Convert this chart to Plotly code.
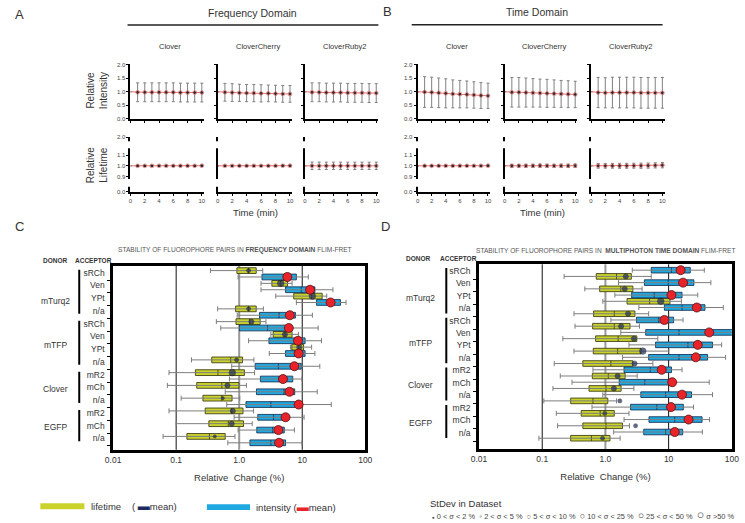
import plotly.graph_objects as go

W, H = 745, 523
FONT = "Liberation Sans, Arial, sans-serif"

# ====================== DATA: panels A / B (time courses) ======================
time_min = [0, 1, 2, 3, 4, 5, 6, 7, 8, 9, 10]
construct_names = ["Clover", "CloverCherry", "CloverRuby2"]
domain_titles = ["Frequency Domain", "Time Domain"]

# frequency domain - relative intensity
fd_int_clover = [1.00, 0.98, 0.98, 0.98, 0.98, 0.98, 0.98, 0.97, 0.97, 0.97, 0.97]
fd_int_clover_sd = [0.00, 0.35, 0.35, 0.35, 0.35, 0.35, 0.35, 0.35, 0.35, 0.35, 0.35]
fd_int_cherry = [1.00, 0.98, 0.97, 0.96, 0.95, 0.95, 0.94, 0.94, 0.93, 0.92, 0.92]
fd_int_cherry_sd = [0.00, 0.33, 0.33, 0.32, 0.32, 0.32, 0.32, 0.31, 0.31, 0.31, 0.31]
fd_int_ruby = [1.00, 0.98, 0.98, 0.97, 0.97, 0.97, 0.96, 0.96, 0.96, 0.95, 0.95]
fd_int_ruby_sd = [0.00, 0.35, 0.35, 0.35, 0.35, 0.35, 0.35, 0.35, 0.35, 0.35, 0.35]
# frequency domain - relative lifetime
fd_lt_clover = [1.000, 1.000, 1.000, 1.000, 1.000, 1.000, 1.000, 1.000, 1.000, 1.000, 1.001]
fd_lt_clover_sd = [0.0, 0.004, 0.004, 0.004, 0.004, 0.004, 0.004, 0.004, 0.004, 0.004, 0.004]
fd_lt_cherry = [1.000, 1.000, 1.000, 1.000, 1.000, 1.000, 1.000, 1.000, 1.000, 1.001, 1.001]
fd_lt_cherry_sd = [0.0, 0.004, 0.004, 0.004, 0.004, 0.004, 0.004, 0.004, 0.004, 0.004, 0.004]
fd_lt_ruby = [1.000, 1.000, 1.000, 1.000, 1.000, 1.000, 1.000, 1.000, 1.000, 1.000, 1.000]
fd_lt_ruby_sd = [0.0, 0.035, 0.035, 0.034, 0.034, 0.034, 0.034, 0.034, 0.034, 0.034, 0.034]

# time domain - relative intensity
td_int_clover = [1.00, 0.99, 0.98, 0.96, 0.94, 0.92, 0.91, 0.90, 0.88, 0.86, 0.85]
td_int_clover_sd = [0.00, 0.57, 0.56, 0.55, 0.54, 0.52, 0.51, 0.50, 0.49, 0.48, 0.47]
td_int_cherry = [1.00, 0.98, 0.98, 0.97, 0.96, 0.95, 0.94, 0.93, 0.92, 0.91, 0.90]
td_int_cherry_sd = [0.00, 0.55, 0.55, 0.54, 0.53, 0.52, 0.52, 0.51, 0.50, 0.50, 0.49]
td_int_ruby = [1.00, 0.97, 0.96, 0.97, 0.97, 0.97, 0.97, 0.96, 0.96, 0.96, 0.96]
td_int_ruby_sd = [0.00, 0.56, 0.56, 0.57, 0.57, 0.57, 0.57, 0.57, 0.57, 0.57, 0.57]
# time domain - relative lifetime
td_lt_clover = [1.000, 1.000, 1.000, 1.000, 1.000, 1.000, 1.000, 1.000, 1.000, 1.000, 1.001]
td_lt_clover_sd = [0.0, 0.005, 0.005, 0.005, 0.005, 0.005, 0.005, 0.005, 0.005, 0.005, 0.006]
td_lt_cherry = [1.000, 1.000, 1.000, 1.000, 1.000, 1.001, 1.000, 1.000, 1.000, 1.000, 1.001]
td_lt_cherry_sd = [0.0, 0.014, 0.014, 0.015, 0.015, 0.015, 0.015, 0.015, 0.016, 0.016, 0.016]
td_lt_ruby = [1.000, 1.000, 1.000, 1.000, 1.000, 1.000, 1.001, 1.001, 1.002, 1.004, 1.006]
td_lt_ruby_sd = [0.0, 0.022, 0.022, 0.022, 0.023, 0.023, 0.023, 0.024, 0.024, 0.024, 0.025]

# ====================== DATA: panels C / D (box plots, % change) ======================
donor_names = ["mTurq2", "mTFP", "Clover", "EGFP"]
donor_counts = [4, 4, 3, 3]
acceptor_names = ["sRCh", "Ven", "YPt", "n/a", "sRCh", "Ven", "YPt", "n/a",
                  "mR2", "mCh", "n/a", "mR2", "mCh", "n/a"]
x_tick_vals = [0.01, 0.1, 1, 10, 100]
x_tick_text = ["0.01", "0.1", "1.0", "10", "100"]
sigma_labels = ["0 < σ < 2 %", "2 < σ < 5 %", "5 < σ < 10 %",
                "10 < σ < 25 %", "25 < σ < 50 %", "σ >50 %"]

# frequency domain - lifetime
fd_life_low = [0.35, 2.22, 3.8, 0.455, 0.434, 3.18, 6.5, 0.175, 0.077, 0.0725, 0.12, 0.077, 0.10, 0.062]
fd_life_q1 = [0.92, 3.3, 7.33, 0.877, 0.89, 3.46, 6.83, 0.367, 0.202, 0.212, 0.266, 0.289, 0.33, 0.148]
fd_life_med = [1.41, 4.55, 14.1, 1.41, 1.47, 5.31, 8.77, 0.733, 0.46, 0.53, 0.53, 0.76, 0.67, 0.337]
fd_life_q3 = [1.86, 5.85, 20.7, 1.86, 2.15, 6.9, 10.5, 1.13, 1.21, 0.99, 0.77, 1.15, 1.17, 0.60]
fd_life_high = [2.36, 6.9, 24.5, 2.42, 2.66, 8.77, 14.1, 1.71, 1.75, 1.30, 1.02, 1.69, 1.61, 0.857]
fd_life_mean = [1.41, 4.55, 14.5, 1.41, 1.56, 5.31, 8.98, 0.91, 0.778, 0.65, 0.55, 0.79, 0.76, 0.41]
fd_life_sigma = [1, 3, 3, 1, 2, 2, 2, 1, 3, 2, 0, 2, 2, 0]
# frequency domain - intensity
fd_int_low = [0.96, 2.22, 8.07, 0.93, 0.51, 1.41, 3.0, 0.76, 0.70, 0.60, 0.635, 0.83, 0.96, 0.66]
fd_int_q1 = [2.3, 5.44, 16.9, 2.1, 1.01, 2.96, 5.44, 1.79, 2.17, 1.88, 1.28, 1.97, 1.9, 1.48]
fd_int_med = [5.1, 9.64, 28.9, 4.29, 2.82, 7.6, 7.6, 4.19, 4.29, 5.13, 3.18, 3.5, 3.38, 3.18]
fd_int_q3 = [8.07, 15.9, 40.4, 7.8, 5.57, 11.1, 11.1, 9.64, 7.08, 7.6, 9.64, 6.13, 5.19, 5.44]
fd_int_high = [12.5, 30.7, 49.5, 14.5, 17.9, 20.2, 15.9, 19.0, 9.88, 17.3, 28.9, 10.7, 7.51, 9.88]
fd_int_mean = [5.8, 13.3, 28.2, 6.36, 6.13, 8.57, 8.77, 7.51, 4.95, 6.28, 8.77, 5.44, 4.19, 4.29]
fd_int_sigma = [4, 4, 4, 4, 4, 4, 4, 4, 4, 4, 4, 4, 4, 4]

# multiphoton time domain - lifetime
td_life_low = [0.222, 0.472, 0.91, 0.318, 0.33, 0.212, 0.318, 0.155, 0.193, 0.148, 0.106, 0.167, 0.175, 0.0887]
td_life_q1 = [0.716, 0.81, 2.2, 0.65, 0.628, 0.70, 0.643, 0.439, 0.621, 0.55, 0.282, 0.414, 0.439, 0.282]
td_life_med = [1.5, 1.75, 5.0, 1.38, 1.38, 1.59, 1.56, 1.22, 1.11, 1.02, 0.635, 0.826, 1.02, 0.60]
td_life_q3 = [2.57, 2.72, 10.5, 2.93, 2.45, 3.14, 3.67, 2.72, 2.05, 1.77, 1.09, 1.38, 1.86, 1.18]
td_life_high = [5.31, 3.8, 15.9, 4.83, 3.46, 6.75, 10.1, 5.64, 3.18, 2.82, 1.5, 2.36, 2.4, 1.71]
td_life_mean = [2.1, 2.02, 7.5, 2.28, 1.77, 2.82, 3.9, 2.89, 1.56, 1.36, 1.69, 0.977, 3.0, 0.90]
td_life_sigma = [2, 2, 3, 2, 2, 2, 3, 2, 2, 2, 1, 1, 1, 1]
# multiphoton time domain - intensity
td_int_low = [2.66, 1.61, 1.41, 3.38, 1.22, 1.75, 2.36, 1.86, 0.635, 0.296, 0.91, 0.613, 1.97, 1.35]
td_int_q1 = [5.31, 4.14, 2.6, 8.57, 3.1, 4.34, 6.21, 4.83, 1.97, 1.65, 3.63, 2.5, 4.89, 4.04]
td_int_med = [11.1, 9.88, 5.92, 16.3, 6.9, 14.6, 20.2, 14.6, 5.13, 4.19, 8.98, 6.5, 12.5, 8.98]
td_int_q3 = [22.0, 25.1, 16.3, 37.6, 12.0, 120.0, 49.5, 41.4, 11.1, 11.1, 23.0, 17.1, 33.8, 16.7]
td_int_high = [36.7, 46.6, 28.9, 73.3, 16.9, 200.0, 69.0, 79.7, 16.3, 43.9, 49.5, 24.8, 44.4, 34.2]
td_int_mean = [15.5, 16.9, 11.1, 27.9, 8.57, 43.9, 28.9, 26.9, 7.78, 11.4, 16.3, 10.9, 20.7, 12.5]
td_int_sigma = [4, 4, 4, 4, 4, 4, 4, 4, 4, 4, 4, 4, 4, 4]

# ====================== STYLE ======================
LIME, LIME_LINE = "#cad32c", "#3f4016"
SKY, SKY_LINE = "#1ea9e1", "#1b3557"
WHISKER = "#7d7d7d"
NAVY, RED = "#1d2a5e", "#e8232a"
SIGMA_SIZES = [3.2, 4.2, 5.2, 6.6, 9.0, 11.5]


def px(v):
    return v / W


def py(v):
    return 1 - v / H


fig = go.Figure()
layout = {}
shapes = []
annotations = []


def ann(text, x, y, size=9, color="#222", xanchor="center", yanchor="middle",
        angle=0, xref="paper", yref="paper", family=FONT):
    annotations.append(dict(
        text=text, x=px(x) if xref == "paper" else x,
        y=py(y) if yref == "paper" else y, xref=xref, yref=yref,
        showarrow=False, xanchor=xanchor, yanchor=yanchor, textangle=angle,
        font=dict(family=family, size=size, color=color)))


def names(n):
    return ("x" if n == 1 else f"x{n}", "y" if n == 1 else f"y{n}",
            "xaxis" if n == 1 else f"xaxis{n}", "yaxis" if n == 1 else f"yaxis{n}")


# ---------------- small time-course plots ----------------
LT_LO, LT_HI = 0.7576, 1.2673   # broken lifetime axis: 0.0 | 0.9-1.1 | 2.0
INT_Y = (62, 117)
LT_Y = (135.7, 191)
col_px = [[(125, 200), (214, 290), (303, 378)],
          [(418, 492), (507, 581), (595, 670)]]
panel_series = [
    [(fd_int_clover, fd_int_clover_sd, fd_lt_clover, fd_lt_clover_sd),
     (fd_int_cherry, fd_int_cherry_sd, fd_lt_cherry, fd_lt_cherry_sd),
     (fd_int_ruby, fd_int_ruby_sd, fd_lt_ruby, fd_lt_ruby_sd)],
    [(td_int_clover, td_int_clover_sd, td_lt_clover, td_lt_clover_sd),
     (td_int_cherry, td_int_cherry_sd, td_lt_cherry, td_lt_cherry_sd),
     (td_int_ruby, td_int_ruby_sd, td_lt_ruby, td_lt_ruby_sd)],
]

n = 0
for p in range(2):
    for c in range(3):
        int_m, int_sd, lt_m, lt_sd = panel_series[p][c]
        for lifetime, mean, sd, yr in ((False, int_m, int_sd, INT_Y), (True, lt_m, lt_sd, LT_Y)):
            n += 1
            xa, ya, xk, yk = names(n)
            fig.add_trace(go.Scatter(
                x=time_min, y=mean, xaxis=xa, yaxis=ya, mode="lines+markers",
                line=dict(color="#e57373", width=1),
                marker=dict(color="black", size=[0] + [3.8] * (len(time_min) - 1)),
                error_y=dict(type="data", array=sd, visible=True, color="#808080",
                             thickness=1, width=1.5),
                showlegend=False, hoverinfo="skip", cliponaxis=False))
            xr = col_px[p][c]
            layout[xk] = dict(domain=[px(xr[0]), px(xr[1])], range=[0, 10.3], anchor=ya,
                              tickvals=[0, 2, 4, 6, 8, 10], ticks="outside", ticklen=2,
                              tickwidth=1, tickcolor="black", showticklabels=lifetime,
                              tickfont=dict(family=FONT, size=6, color="#444"),
                              showline=True, linewidth=2, linecolor="black",
                              showgrid=False, zeroline=False, fixedrange=True)
            if lifetime:
                yax = dict(range=[LT_LO, LT_HI],
                           tickvals=[LT_LO + 0.002, 0.9, 1.0, 1.1, LT_HI - 0.002],
                           ticktext=["0.0", "0.9", "1.0", "1.1", "2.0"],
                           ticks="outside" if c == 0 else "")
            else:
                yax = dict(range=[0, 2.02], tickvals=[0, 0.5, 1.0, 1.5, 2.0],
                           ticktext=["0.0", "0.5", "1.0", "1.5", "2.0"], ticks="outside")
            yax.update(domain=[py(yr[1]), py(yr[0])], anchor=xa, ticklen=2, tickwidth=1,
                       tickcolor="black", showticklabels=(c == 0),
                       tickfont=dict(family=FONT, size=6, color="#444"),
                       showline=True, linewidth=2, linecolor="black",
                       showgrid=False, zeroline=False, fixedrange=True)
            layout[yk] = yax
            if lifetime:
                # axis-break gaps
                for g0, g1 in ((1.163, 1.228), (0.804, 0.877)):
                    shapes.append(dict(type="rect", xref=f"{xa} domain", yref=ya,
                                       x0=-0.04, x1=0.015, y0=g0, y1=g1,
                                       fillcolor="white", line=dict(width=0), layer="above"))
        ann(construct_names[c], (xr[0] + xr[1]) / 2 + 3, 44, size=7.5, color="#333")

# headers of panels A/B
ann("A", 12, 12, size=13, color="#333")
ann("B", 387, 9, size=13, color="#333")
ann(domain_titles[0], 250, 10, size=10.5, color="#333")
ann(domain_titles[1], 540, 9, size=10.5, color="#333")
shapes.append(dict(type="line", xref="paper", yref="paper", x0=px(122), x1=px(378),
                   y0=py(22.3), y1=py(22.3), line=dict(color="#222", width=1.5)))
shapes.append(dict(type="line", xref="paper", yref="paper", x0=px(412), x1=px(668),
                   y0=py(22), y1=py(22), line=dict(color="#222", width=1.5)))
ann("Relative<br>Intensity", 91, 89, size=10, color="#333", angle=-90)
ann("Relative<br>Lifetime", 91, 164, size=10, color="#333", angle=-90)
ann("Time (min)", 253, 212, size=9.5, color="#333")
ann("Time (min)", 545, 212, size=9.5, color="#333")

# ---------------- box-plot panels C / D ----------------
def sizes(classes):
    return [SIGMA_SIZES[k] for k in classes]


panels = [
    dict(n=13, x=(107.3, 364.6), y=(266, 452), yrange=[28.1, -0.73], life_first=True,
         life=(fd_life_low, fd_life_q1, fd_life_med, fd_life_q3, fd_life_high, fd_life_mean, fd_life_sigma),
         inten=(fd_int_low, fd_int_q1, fd_int_med, fd_int_q3, fd_int_high, fd_int_mean, fd_int_sigma),
         label_off=0.3, line_x=72.7, donor_x=48, lab_shift=[1.2, 0.2, 0, 0],
         grp=(-0.15, 0.75),
         title="STABILITY OF FLUOROPHORE PAIRS IN <b>FREQUENCY DOMAIN</b> FLIM-FRET",
         title_x=232, head_y=260.5, donor_hx=48, acc_hx=87, letter="C", letter_x=12),
    dict(n=14, x=(480.7, 738.7), y=(264.3, 451.3), yrange=[28.75, -0.95], life_first=False,
         life=(td_life_low, td_life_q1, td_life_med, td_life_q3, td_life_high, td_life_mean, td_life_sigma),
         inten=(td_int_low, td_int_q1, td_int_med, td_int_q3, td_int_high, td_int_mean, td_int_sigma),
         label_off=0.1, line_x=447.3, donor_x=421, lab_shift=[1.0, 0.2, 0, 0],
         grp=(-0.35, 0.95),
         title="STABILITY OF FLUOROPHORE PAIRS IN  <b>MULTIPHOTON TIME DOMAIN</b> FLIM-FRET",
         title_x=610, head_y=258, donor_hx=419, acc_hx=460, letter="D", letter_x=385),
]

nrows = len(acceptor_names)
for P in panels:
    xa, ya, xk, yk = names(P["n"])
    life_pos = [2 * i + (0 if P["life_first"] else 1) for i in range(nrows)]
    int_pos = [2 * i + (1 if P["life_first"] else 0) for i in range(nrows)]
    for stats, pos, fill, lc in ((P["life"], life_pos, LIME, LIME_LINE),
                                 (P["inten"], int_pos, SKY, SKY_LINE)):
        lo, q1, med, q3, hi, mean, sig = stats
        # gray whiskers (min..max) drawn as asymmetric error bars around the median
        fig.add_trace(go.Scatter(
            x=med, y=pos, xaxis=xa, yaxis=ya, mode="markers",
            marker=dict(size=1, opacity=0),
            error_x=dict(type="data", symmetric=False,
                         array=[h - m for h, m in zip(hi, med)],
                         arrayminus=[m - l for m, l in zip(med, lo)],
                         color=WHISKER, thickness=1, width=2.5),
            showlegend=False, hoverinfo="skip"))
        # box body (quartiles + median); whiskers collapsed onto the box
        fig.add_trace(go.Box(orientation="h", y=pos, q1=q1, median=med, q3=q3,
                             lowerfence=q1, upperfence=q3, xaxis=xa, yaxis=ya,
                             fillcolor=fill, line=dict(color=lc, width=0.9),
                             width=0.9, whiskerwidth=0, boxpoints=False,
                             showlegend=False, hoverinfo="skip"))
    lo, q1, med, q3, hi, mean, sig = P["life"]
    fig.add_trace(go.Scatter(x=mean, y=life_pos, xaxis=xa, yaxis=ya, mode="markers",
                             marker=dict(color=NAVY, size=sizes(sig),
                                         line=dict(color="#111", width=0.5)),
                             showlegend=False, hoverinfo="skip"))
    lo, q1, med, q3, hi, mean, sig = P["inten"]
    fig.add_trace(go.Scatter(x=mean, y=int_pos, xaxis=xa, yaxis=ya, mode="markers",
                             marker=dict(color=RED, size=sizes(sig), opacity=1,
                                         line=dict(color="#5a1010", width=0.8)),
                             showlegend=False, hoverinfo="skip"))

    layout[xk] = dict(domain=[px(P["x"][0]), px(P["x"][1])], type="log", range=[-2, 2],
                      anchor=ya, tickvals=x_tick_vals, ticktext=x_tick_text, ticks="",
                      tickfont=dict(family=FONT, size=8.5, color="#333"),
                      showline=True, mirror=True, linewidth=2.5, linecolor="black",
                      showgrid=False, zeroline=False, fixedrange=True,
                      title=dict(text="Relative  Change (%)", standoff=11,
                                 font=dict(family=FONT, size=9.5, color="#333")))
    layout[yk] = dict(domain=[py(P["y"][1]), py(P["y"][0])], range=P["yrange"], anchor=xa,
                      tickvals=[2 * i + P["label_off"] for i in range(nrows)],
                      ticktext=acceptor_names, ticks="", ticklabelstandoff=4,
                      minor=dict(tickmode="array", tickvals=[2 * i + 1.5 for i in range(nrows)],
                                 ticks="outside", ticklen=3, tickwidth=1, tickcolor="black"),
                      tickfont=dict(family=FONT, size=8.5, color="#333"),
                      showline=True, mirror=True, linewidth=2.5, linecolor="black",
                      showgrid=False, zeroline=False, fixedrange=True)
    # reference lines at 0.1, 1.0, 10 (domain quarters of the 4-decade axis)
    for frac, col, wd in ((0.25, "#111", 1), (0.5, "#999999", 2), (0.75, "#111", 1)):
        shapes.append(dict(type="line", xref=f"{xa} domain", yref=f"{ya} domain",
                           x0=frac, x1=frac, y0=0, y1=1, line=dict(color=col, width=wd),
                           layer="below"))
    # donor groups
    start = 0
    for d, cnt in enumerate(donor_counts):
        first, last = start, start + cnt - 1
        y0 = 2 * first + P["grp"][0]
        y1 = 2 * last + P["grp"][1]
        shapes.append(dict(type="line", xref="paper", yref=ya, x0=px(P["line_x"]),
                           x1=px(P["line_x"]), y0=y0, y1=y1,
                           line=dict(color="black", width=2)))
        ann(donor_names[d], P["donor_x"], (2 * first + 2 * last + 1) / 2 + P["lab_shift"][d],
            size=8.5, color="#333", yref=ya)
        start += cnt
    ann(P["title"], P["title_x"], 250, size=6.6, color="#555")
    ann("<b>DONOR</b>", P["donor_hx"], P["head_y"], size=6.5, color="#333")
    ann("<b>ACCEPTOR</b>", P["acc_hx"], P["head_y"], size=6.5, color="#333")
    ann(P["letter"], P["letter_x"], 226, size=13, color="#333")

# ---------------- legends ----------------
shapes.append(dict(type="rect", xref="paper", yref="paper", x0=px(33), x1=px(78),
                   y0=py(512), y1=py(506), fillcolor=LIME, line=dict(width=0)))
ann("lifetime", 83, 509, size=9.5, color="#333", xanchor="left")
ann(f'( <span style="color:{NAVY};font-size:12px">▬</span>mean)', 124, 509, size=9.5,
    color="#333", xanchor="left")
shapes.append(dict(type="rect", xref="paper", yref="paper", x0=px(203), x1=px(247),
                   y0=py(513), y1=py(507), fillcolor=SKY, line=dict(width=0)))
ann(f'intensity (<span style="color:{RED};font-size:12px">▬</span>mean)', 251, 509.5,
    size=9.5, color="#333", xanchor="left")

ann("StDev in Dataset", 429, 506.5, size=9.5, color="#333", xanchor="left")
glyphs = ["●", "◦", "○", "○", "○", "○"]
glyph_sizes = [4.5, 8.5, 7.5, 9, 10.5, 12.5]
parts = []
for g, gs, lab in zip(glyphs, glyph_sizes, sigma_labels):
    parts.append(f'<span style="font-size:{gs}px">{g}</span> {lab}')
ann("  ".join(parts), 431, 517.5, size=7.4, color="#444", xanchor="left")

fig.update_layout(
    width=W, height=H, margin=dict(l=0, r=0, t=0, b=0),
    paper_bgcolor="white", plot_bgcolor="rgba(0,0,0,0)",
    font=dict(family=FONT, color="#333"),
    shapes=shapes, annotations=annotations, showlegend=False,
    **layout)

fig.write_html("out.html", config={"displayModeBar": False},
               post_script="document.body.style.margin='0';document.body.style.padding='0';"
                           "document.documentElement.style.overflow='hidden';")
